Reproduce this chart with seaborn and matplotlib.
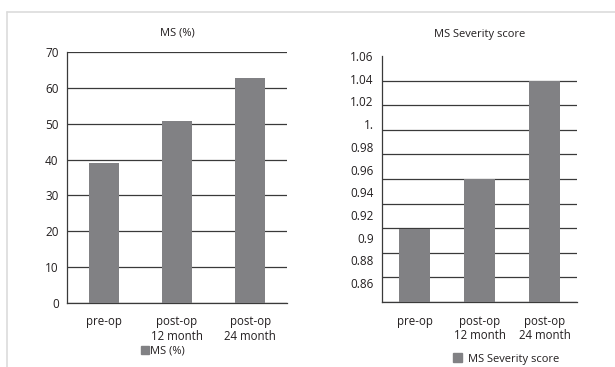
import matplotlib
matplotlib.use('Agg')
import matplotlib.pyplot as plt
import numpy as np
import pandas as pd
import seaborn as sns
from matplotlib.patches import Patch
from matplotlib.lines import Line2D

# data
categories = ['pre-op', 'post-op\n12 month', 'post-op\n24 month']
ms_pct = [39.0, 50.8, 62.8]
ms_severity = [0.908, 0.952, 1.038]

sev_labels = ['0.86', '0.88', '0.9', '0.92', '0.94', '0.96', '0.98', '1.', '1.02', '1.04', '1.06']
sev_label_vals = [0.86, 0.88, 0.90, 0.92, 0.94, 0.96, 0.98, 1.00, 1.02, 1.04, 1.06]

bar_color = '#818184'
grid_color = '#3a3a3a'
text_color = '#231f20'

sns.set_style('white')
plt.rcParams['font.family'] = ['Open Sans', 'DejaVu Sans']
plt.rcParams['font.size'] = 8

fig = plt.figure(figsize=(6.15, 3.67), dpi=100)
W, H = 615, 367

# light frame round the picture (top and left edges visible)
fig.add_artist(Line2D([7 / W, 1], [1 - 12 / H, 1 - 12 / H], color='#dcdcdc', lw=1.2))
fig.add_artist(Line2D([7 / W, 7 / W], [0, 1 - 12 / H], color='#dcdcdc', lw=1.2))

ax1 = fig.add_axes([67 / W, 1 - 303 / H, 220 / W, 251 / H])
ax2 = fig.add_axes([382 / W, 1 - 302 / H, 195 / W, 246 / H])

df1 = pd.DataFrame({'cat': categories, 'val': ms_pct})
df2 = pd.DataFrame({'cat': categories, 'val': ms_severity})

sns.barplot(data=df1, x='cat', y='val', color=bar_color, width=0.41,
            saturation=1, linewidth=0, ax=ax1, zorder=3)
sns.barplot(data=df2, x='cat', y='val', color=bar_color, width=0.49,
            saturation=1, linewidth=0, ax=ax2, zorder=3)


def style_x(ax):
    ax.set_xlim(-0.5, 2.5)
    ax.set_xlabel('')
    ax.set_ylabel('')
    ax.set_xticks(range(len(categories)))
    ax.set_xticklabels(categories, color=text_color, fontsize=8.3, linespacing=1.15)
    ax.set_xticks([-0.5, 0.5, 1.5, 2.5], minor=True)
    ax.tick_params(axis='x', which='major', length=0, pad=9)
    ax.tick_params(axis='x', which='minor', length=4, width=0.9, color=grid_color, direction='out')
    for s in ['top', 'right']:
        ax.spines[s].set_visible(False)
    for s in ['left', 'bottom']:
        ax.spines[s].set_color(grid_color)
        ax.spines[s].set_linewidth(0.9)


style_x(ax1)
style_x(ax2)

# left panel
ax1.set_ylim(0, 70)
ax1.set_yticks(np.arange(0, 71, 10))
ax1.tick_params(axis='y', length=4, width=0.9, color=grid_color, direction='out',
                labelcolor=text_color, labelsize=8.5, pad=2)
ax1.yaxis.grid(True, color=grid_color, lw=0.9)
ax1.set_axisbelow(True)
ax1.set_title('MS (%)', fontsize=8, color=text_color, pad=12)

# right panel: labels drift from the evenly spaced grid lines
ymin = 0.8433
ax2.set_ylim(ymin, 1.06)
ax2.set_yticks(sev_label_vals)
ax2.set_yticklabels(sev_labels)
ax2.tick_params(axis='y', which='major', length=0, labelcolor=text_color, labelsize=8.5, pad=6)
ax2.set_yticks(np.linspace(ymin, 1.06, 11), minor=True)
ax2.tick_params(axis='y', which='minor', length=4, width=0.9, color=grid_color, direction='out')
ax2.yaxis.grid(True, which='minor', color=grid_color, lw=0.9)
ax2.yaxis.grid(False, which='major')
ax2.set_axisbelow(True)
ax2.set_title('MS Severity score', fontsize=8, color=text_color, pad=14)

# legends
fig.legend(handles=[Patch(color=bar_color, label='MS (%)')], loc='center',
           bbox_to_anchor=(163 / W, 1 - 351 / H), frameon=False, fontsize=8,
           handlelength=0.7, handleheight=0.7, handletextpad=0.1, labelcolor=text_color)
fig.legend(handles=[Patch(color=bar_color, label='MS Severity score')], loc='center',
           bbox_to_anchor=(506 / W, 1 - 359 / H), frameon=False, fontsize=8,
           handlelength=0.8, handleheight=0.8, handletextpad=0.5, labelcolor=text_color)

fig.savefig('out.png', dpi=100)
